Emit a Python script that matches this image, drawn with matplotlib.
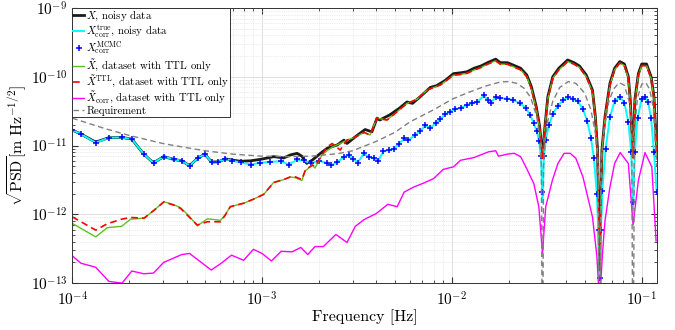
"""
Amplitude spectral density of the TDI X channel: noisy data, corrected
channels (true and MCMC estimate) and the TTL-only dataset, against the
requirement curve.
"""

import matplotlib
matplotlib.use("Agg")
import matplotlib.pyplot as plt
from matplotlib.ticker import FixedLocator, NullFormatter

# ---- X, noisy data -------------------------------------------------------
f_x_low = [
    1.0e-4, 1.11e-4, 1.33e-4, 1.56e-4, 1.83e-4, 2.06e-4, 2.38e-4, 2.68e-4, 3.03e-4, 3.42e-4,
    3.77e-4, 4.15e-4, 4.57e-4, 4.99e-4, 5.42e-4, 5.89e-4, 6.40e-4, 6.96e-4, 7.7e-4, 8.7e-4,
    9.8e-4, 1.07e-3, 1.15e-3, 1.30e-3, 1.41e-3, 1.53e-3, 1.62e-3, 1.72e-3, 1.84e-3, 2.03e-3,
    2.2e-3, 2.49e-3, 2.7e-3, 2.8e-3, 3.1e-3, 3.49e-3, 3.79e-3, 4.03e-3, 4.17e-3, 4.7e-3,
    5.3e-3, 5.8e-3, 6.2e-3, 6.8e-3, 7.7e-3, 8.3e-3, 9.2e-3,
]
psd_x_low = [
    1.68e-11, 1.47e-11, 1.12e-11, 1.30e-11, 1.31e-11, 1.24e-11, 7.5e-12, 5.6e-12, 6.9e-12, 6.3e-12,
    6.0e-12, 5.1e-12, 6.5e-12, 7.5e-12, 5.75e-12, 5.8e-12, 6.4e-12, 6.15e-12, 5.9e-12, 6.0e-12,
    6.3e-12, 6.6e-12, 6.9e-12, 6.6e-12, 7.3e-12, 7.7e-12, 7.0e-12, 5.5e-12, 6.15e-12, 7.7e-12,
    9.1e-12, 1.02e-11, 1.2e-11, 1.07e-11, 1.34e-11, 1.71e-11, 1.58e-11, 2.5e-11, 2.35e-11, 2.78e-11,
    3.5e-11, 4.3e-11, 4.1e-11, 5.1e-11, 7.0e-11, 7.4e-11, 8.8e-11,
]
# high-frequency grid shared by X and the TTL-only channels
f_high = [
    1.02e-2, 1.11e-2, 1.2e-2, 1.31e-2, 1.42e-2, 1.54e-2, 1.7e-2, 1.8e-2, 1.96e-2, 2.1e-2,
    2.3e-2, 2.48e-2, 2.62e-2, 2.78e-2, 2.9e-2, 3.0e-2, 3.09e-2, 3.2e-2, 3.4e-2, 3.66e-2,
    4.07e-2, 4.4e-2, 4.7e-2, 5.1e-2, 5.5e-2, 5.7e-2, 5.85e-2, 6.0e-2, 6.17e-2, 6.4e-2,
    6.8e-2, 7.2e-2, 7.66e-2, 8.1e-2, 8.5e-2, 8.7e-2, 9.0e-2, 9.2e-2, 9.6e-2, 1.0e-1,
    1.06e-1, 1.12e-1, 1.16e-1, 1.2e-1,
]
psd_x_high = [
    1.11e-10, 1.14e-10, 1.18e-10, 1.33e-10, 1.43e-10, 1.6e-10, 1.8e-10, 1.6e-10, 1.6e-10, 1.48e-10,
    1.33e-10, 1.06e-10, 7.2e-11, 3.7e-11, 1.88e-11, 7.0e-12, 1.88e-11, 5.1e-11, 1.0e-10, 1.33e-10,
    1.75e-10, 1.6e-10, 1.43e-10, 1.06e-10, 6.4e-11, 2.6e-11, 8.6e-12, 1.6e-13, 8.6e-12, 2.6e-11,
    8.0e-11, 1.33e-10, 1.66e-10, 1.53e-10, 1.0e-10, 4.6e-11, 7.0e-12, 4.6e-11, 1.11e-10, 1.53e-10,
    1.53e-10, 1.0e-10, 5.1e-11, 8.0e-12,
]

# ---- corrected channel: true and MCMC estimate ---------------------------
f_corr = [
    1.0e-4, 1.11e-4, 1.33e-4, 1.56e-4, 1.83e-4, 2.06e-4, 2.38e-4, 2.68e-4, 3.03e-4, 3.42e-4,
    3.77e-4, 4.15e-4, 4.57e-4, 4.99e-4, 5.42e-4, 5.89e-4, 6.40e-4, 6.96e-4, 7.7e-4, 8.7e-4,
    9.8e-4, 1.1e-3, 1.26e-3, 1.38e-3, 1.53e-3, 1.66e-3, 1.8e-3, 1.99e-3, 2.2e-3, 2.32e-3,
    2.48e-3, 2.7e-3, 2.86e-3, 3.03e-3, 3.2e-3, 3.43e-3, 3.64e-3, 3.87e-3, 4.1e-3, 4.36e-3,
    4.64e-3, 4.94e-3, 5.25e-3, 5.6e-3, 5.9e-3, 6.4e-3, 6.8e-3, 7.25e-3, 7.7e-3, 8.2e-3,
    8.7e-3, 9.2e-3, 9.8e-3, 1.04e-2, 1.11e-2, 1.2e-2, 1.27e-2, 1.36e-2, 1.47e-2, 1.55e-2,
    1.6e-2, 1.7e-2, 1.8e-2, 1.96e-2, 2.1e-2, 2.29e-2, 2.45e-2, 2.58e-2, 2.7e-2, 2.8e-2,
    2.88e-2, 2.95e-2, 3.0e-2, 3.05e-2, 3.12e-2, 3.25e-2, 3.4e-2, 3.6e-2, 3.85e-2, 4.1e-2,
    4.35e-2, 4.6e-2, 4.9e-2, 5.15e-2, 5.4e-2, 5.6e-2, 5.8e-2, 5.92e-2, 6.0e-2, 6.08e-2,
    6.2e-2, 6.45e-2, 6.8e-2, 7.2e-2, 7.66e-2, 8.1e-2, 8.5e-2, 8.8e-2, 9.0e-2, 9.2e-2,
    9.5e-2, 1.0e-1, 1.04e-1, 1.08e-1, 1.12e-1, 1.16e-1, 1.2e-1,
]
psd_corr_true = [
    1.68e-11, 1.47e-11, 1.1e-11, 1.3e-11, 1.31e-11, 1.24e-11, 7.5e-12, 5.6e-12, 6.9e-12, 6.3e-12,
    6.0e-12, 5.1e-12, 6.5e-12, 7.5e-12, 5.75e-12, 5.8e-12, 6.4e-12, 6.0e-12, 5.7e-12, 5.3e-12,
    5.6e-12, 5.8e-12, 5.9e-12, 5.3e-12, 6.2e-12, 6.1e-12, 5.5e-12, 6.0e-12, 5.6e-12, 5.2e-12,
    5.7e-12, 6.8e-12, 7.2e-12, 6.3e-12, 5.7e-12, 7.6e-12, 6.9e-12, 6.5e-12, 6.1e-12, 8.2e-12,
    8.6e-12, 8.9e-12, 1.06e-11, 1.25e-11, 1.21e-11, 1.41e-11, 1.63e-11, 1.95e-11, 1.8e-11, 2.1e-11,
    2.4e-11, 2.85e-11, 3.1e-11, 3.4e-11, 3.5e-11, 3.9e-11, 4.1e-11, 4.3e-11, 5.3e-11, 4.6e-11,
    4.2e-11, 5.0e-11, 4.9e-11, 4.8e-11, 4.6e-11, 4.1e-11, 3.5e-11, 2.8e-11, 2.1e-11, 1.6e-11,
    1.15e-11, 6.5e-12, 1.5e-12, 6.5e-12, 1.2e-11, 2.0e-11, 2.9e-11, 3.7e-11, 4.6e-11, 5.0e-11,
    4.8e-11, 4.4e-11, 3.4e-11, 2.3e-11, 1.3e-11, 6.5e-12, 2.0e-12, 5e-13, 6e-14, 5e-13,
    2.2e-12, 9e-12, 2.6e-11, 4.4e-11, 5.1e-11, 4.2e-11, 2.2e-11, 8e-12, 1.2e-12, 8e-12,
    2.5e-11, 4.8e-11, 5.1e-11, 4.3e-11, 2.5e-11, 8e-12, 2.0e-12,
]
psd_corr_mcmc = [
    1.68e-11, 1.47e-11, 1.1e-11, 1.3e-11, 1.31e-11, 1.24e-11, 7.5e-12, 5.6e-12, 6.9e-12, 6.3e-12,
    6.0e-12, 5.1e-12, 6.5e-12, 7.5e-12, 5.75e-12, 5.8e-12, 6.4e-12, 6.0e-12, 5.8e-12, 5.2e-12,
    5.6e-12, 5.8e-12, 6.0e-12, 5.2e-12, 6.3e-12, 6.15e-12, 5.5e-12, 6.0e-12, 5.55e-12, 5.2e-12,
    5.8e-12, 6.9e-12, 7.3e-12, 6.3e-12, 5.6e-12, 7.7e-12, 6.9e-12, 6.6e-12, 6.0e-12, 8.3e-12,
    8.6e-12, 8.8e-12, 1.07e-11, 1.27e-11, 1.2e-11, 1.42e-11, 1.64e-11, 1.99e-11, 1.77e-11, 2.1e-11,
    2.4e-11, 2.9e-11, 3.1e-11, 3.4e-11, 3.5e-11, 3.9e-11, 4.1e-11, 4.3e-11, 5.4e-11, 4.6e-11,
    4.1e-11, 5.1e-11, 4.9e-11, 4.8e-11, 4.6e-11, 4.1e-11, 3.5e-11, 2.8e-11, 2.1e-11, 1.6e-11,
    1.15e-11, 7e-12, 2.1e-12, 7e-12, 1.2e-11, 2.0e-11, 2.9e-11, 3.7e-11, 4.6e-11, 5.0e-11,
    4.8e-11, 4.4e-11, 3.4e-11, 2.3e-11, 1.3e-11, 6.5e-12, 2.0e-12, 6e-13, 1.2e-13, 6e-13,
    2.2e-12, 9e-12, 2.6e-11, 4.4e-11, 5.1e-11, 4.2e-11, 2.2e-11, 8e-12, 1.5e-12, 8e-12,
    2.5e-11, 4.8e-11, 5.1e-11, 4.3e-11, 2.5e-11, 8e-12, 2.1e-12,
]

# ---- dataset with TTL only ----------------------------------------------
f_ttl_low = [
    1.0e-4, 1.33e-4, 1.53e-4, 1.82e-4, 2.03e-4, 2.39e-4, 2.7e-4, 3.04e-4, 3.43e-4, 3.72e-4,
    4.12e-4, 4.56e-4, 5.15e-4, 6.05e-4, 6.4e-4, 6.8e-4, 8.0e-4, 9.0e-4, 1.02e-3, 1.15e-3,
    1.3e-3, 1.41e-3, 1.5e-3, 1.62e-3, 1.69e-3, 1.84e-3, 1.9e-3, 2.07e-3, 2.2e-3, 2.34e-3,
    2.58e-3, 2.8e-3, 3.05e-3, 3.45e-3, 3.7e-3, 4.03e-3, 4.55e-3, 5.15e-3, 5.8e-3, 6.55e-3,
    7.4e-3, 8.7e-3,
]
psd_xttl_low = [
    9.2e-13, 5.9e-13, 7.3e-13, 8.5e-13, 9.0e-13, 8.8e-13, 1.15e-12, 1.52e-12, 1.36e-12, 1.22e-12,
    9.2e-13, 7.0e-13, 7.8e-13, 7.8e-13, 9.75e-13, 1.29e-12, 1.45e-12, 1.66e-12, 1.95e-12, 2.9e-12,
    3.2e-12, 3.5e-12, 3.5e-12, 3.2e-12, 4.4e-12, 5.2e-12, 5.0e-12, 7.3e-12, 9.5e-12, 1.07e-11,
    8.6e-12, 1.2e-11, 1.3e-11, 1.55e-11, 1.42e-11, 2.5e-11, 2.35e-11, 3.1e-11, 4.1e-11, 4.7e-11,
    6.4e-11, 7.6e-11,
]
psd_xtilde_low = [
    7.4e-13, 4.7e-13, 6.4e-13, 6.7e-13, 8.5e-13, 8.8e-13, 1.15e-12, 1.52e-12, 1.38e-12, 1.25e-12,
    9.5e-13, 6.8e-13, 8.6e-13, 8.2e-13, 9.9e-13, 1.29e-12, 1.45e-12, 1.66e-12, 1.95e-12, 2.9e-12,
    3.2e-12, 3.5e-12, 3.4e-12, 3.1e-12, 4.3e-12, 5.2e-12, 4.7e-12, 7.3e-12, 8.4e-12, 9.5e-12,
    1.07e-11, 1.2e-11, 1.3e-11, 1.55e-11, 1.42e-11, 2.5e-11, 2.35e-11, 3.1e-11, 4.1e-11, 4.7e-11,
    6.4e-11, 7.6e-11,
]
psd_ttl_high = [
    1.05e-10, 1.08e-10, 1.12e-10, 1.25e-10, 1.36e-10, 1.52e-10, 1.7e-10, 1.52e-10, 1.52e-10, 1.4e-10,
    1.26e-10, 1.0e-10, 6.8e-11, 3.5e-11, 1.78e-11, 6.5e-12, 1.78e-11, 4.8e-11, 9.5e-11, 1.26e-10,
    1.66e-10, 1.52e-10, 1.36e-10, 1.0e-10, 6.1e-11, 2.5e-11, 8.2e-12, 1.5e-13, 8.2e-12, 2.5e-11,
    7.6e-11, 1.26e-10, 1.58e-10, 1.45e-10, 9.5e-11, 4.4e-11, 6.6e-12, 4.4e-11, 1.05e-10, 1.45e-10,
    1.45e-10, 9.5e-11, 4.8e-11, 7.6e-12,
]

f_xcorr_ttl = [
    1.0e-4, 1.11e-4, 1.33e-4, 1.56e-4, 1.83e-4, 2.06e-4, 2.38e-4, 2.68e-4, 3.03e-4, 3.77e-4,
    4.15e-4, 5.4e-4, 6.1e-4, 6.9e-4, 8.0e-4, 9.0e-4, 1.0e-3, 1.12e-3, 1.26e-3, 1.44e-3,
    1.6e-3, 1.74e-3, 1.9e-3, 2.1e-3, 2.45e-3, 2.8e-3, 3.1e-3, 3.45e-3, 4.0e-3, 4.6e-3,
    5.15e-3, 5.6e-3, 6.3e-3, 7.0e-3, 8.0e-3, 9.0e-3, 1.02e-2, 1.11e-2, 1.31e-2, 1.56e-2,
    1.7e-2, 1.76e-2, 1.96e-2, 2.13e-2, 2.3e-2, 2.48e-2, 2.7e-2, 2.87e-2, 3.0e-2, 3.12e-2,
    3.38e-2, 3.62e-2, 3.9e-2, 4.2e-2, 4.5e-2, 4.9e-2, 5.5e-2, 5.8e-2, 6.0e-2, 6.2e-2,
    6.4e-2, 6.8e-2, 7.2e-2, 7.7e-2, 8.5e-2, 9.0e-2, 9.6e-2, 1.04e-1, 1.13e-1, 1.19e-1,
]
psd_xcorr_ttl = [
    2.5e-13, 1.95e-13, 1.7e-13, 1.06e-13, 1.0e-13, 1.5e-13, 1.37e-13, 1.4e-13, 2.0e-13, 2.6e-13,
    2.7e-13, 1.55e-13, 1.95e-13, 2.55e-13, 2.15e-13, 3.1e-13, 2.7e-13, 2.1e-13, 2.9e-13, 2.85e-13,
    3.3e-13, 2.6e-13, 3.4e-13, 3.4e-13, 5.1e-13, 3.9e-13, 6.7e-13, 8.4e-13, 1.03e-12, 1.4e-12,
    1.29e-12, 2.1e-12, 2.5e-12, 2.8e-12, 3.3e-12, 4.5e-12, 4.9e-12, 6.1e-12, 6.7e-12, 8.1e-12,
    8.4e-12, 7.0e-12, 7.5e-12, 7.7e-12, 6.9e-12, 4.6e-12, 2.8e-12, 1.29e-12, 2.7e-13, 1.29e-12,
    3.1e-12, 5.5e-12, 7.7e-12, 7.7e-12, 6.5e-12, 3.5e-12, 9.2e-13, 2.5e-13, 5e-14, 2.5e-13,
    8e-13, 2.5e-12, 5.5e-12, 7.9e-12, 5.5e-12, 7e-13, 3.1e-12, 7.9e-12, 4.9e-12, 4.1e-13,
]

# ---- requirement ---------------------------------------------------------
f_req = [
    1.0e-4, 1.5e-4, 2.0e-4, 3.0e-4, 4.0e-4, 5.0e-4, 7.0e-4, 1.0e-3, 1.4e-3, 1.8e-3,
    2.5e-3, 3.0e-3, 4.0e-3, 5.0e-3, 6.0e-3, 8.0e-3, 1.0e-2, 1.2e-2, 1.5e-2, 1.8e-2,
    2.0e-2, 2.2e-2, 2.4e-2, 2.6e-2, 2.8e-2, 2.9e-2, 2.96e-2, 3.0e-2, 3.04e-2, 3.1e-2,
    3.2e-2, 3.4e-2, 3.7e-2, 4.1e-2, 4.5e-2, 5.0e-2, 5.4e-2, 5.7e-2, 5.9e-2, 6.0e-2,
    6.1e-2, 6.3e-2, 6.7e-2, 7.1e-2, 7.6e-2, 8.1e-2, 8.6e-2, 8.85e-2, 9.0e-2, 9.15e-2,
    9.5e-2, 1.0e-1, 1.05e-1, 1.1e-1, 1.15e-1, 1.2e-1,
]
psd_req = [
    2.5e-11, 1.75e-11, 1.4e-11, 1.07e-11, 9.3e-12, 8.4e-12, 7.5e-12, 7.0e-12, 6.9e-12, 7.0e-12,
    7.6e-12, 8.4e-12, 1.15e-11, 1.55e-11, 2.2e-11, 3.3e-11, 4.7e-11, 5.8e-11, 7.3e-11, 8.4e-11,
    8.5e-11, 8.0e-11, 6.8e-11, 5.0e-11, 2.6e-11, 1.3e-11, 5e-12, 1e-15, 5e-12, 1.2e-11,
    2.3e-11, 4.4e-11, 7.0e-11, 8.5e-11, 8.0e-11, 5.8e-11, 3.3e-11, 1.5e-11, 5e-12, 1e-15,
    5e-12, 1.5e-11, 4.3e-11, 6.6e-11, 8.2e-11, 7.5e-11, 4.3e-11, 2.0e-11, 1e-15, 1.6e-11,
    5.0e-11, 7.8e-11, 8.2e-11, 6.6e-11, 3.6e-11, 5e-12,
]

plt.rcParams.update({
    "font.family": "serif",
    "font.serif": ["cmr10", "DejaVu Serif"],
    "mathtext.fontset": "cm",
    "axes.formatter.use_mathtext": True,
    "font.size": 11,
})

fig = plt.figure(figsize=(6.75, 3.3), dpi=100)
ax = fig.add_axes([0.107, 0.142, 0.866, 0.834])

ax.loglog(f_x_low + f_high, psd_x_low + psd_x_high, color="#1a1a1a", lw=2.0,
          label=r"$X$, noisy data")
ax.loglog(f_corr, psd_corr_true, color="#00ffff", lw=1.4,
          label=r"$X_{\mathrm{corr}}^{\mathrm{true}}$, noisy data")
ax.loglog(f_corr, psd_corr_mcmc, ls="none", marker="+", ms=4.5, mew=1.1, color="#0000ff",
          label=r"$X_{\mathrm{corr}}^{\mathrm{MCMC}}$")
ax.loglog(f_ttl_low + f_high, psd_xtilde_low + psd_ttl_high, color="#5fc21e", lw=1.0,
          label=r"$\tilde{X}$, dataset with TTL only")
ax.loglog(f_ttl_low + f_high, psd_xttl_low + psd_ttl_high, color="#ff0000", lw=1.2,
          ls=(0, (4, 2.5)), label=r"$\tilde{X}^{\mathrm{TTL}}$, dataset with TTL only")
ax.loglog(f_xcorr_ttl, psd_xcorr_ttl, color="#ff00ff", lw=1.0,
          label=r"$\tilde{X}_{\mathrm{corr}}$, dataset with TTL only")
ax.loglog(f_req, psd_req, color="#808080", lw=1.0, ls=(0, (4, 2.5)),
          label="Requirement")

ax.set_xlim(1e-4, 0.12)
ax.set_ylim(1e-13, 1e-9)
ax.set_xlabel("Frequency [Hz]", fontsize=11.5, labelpad=1)
ax.set_ylabel(r"$\sqrt{\mathrm{PSD}}[\mathrm{m\ Hz}^{-1/2}]$", fontsize=11.5, labelpad=1)

# decade ticks and minor ticks only inside the plotted range
ax.xaxis.set_major_locator(FixedLocator([1e-4, 1e-3, 1e-2, 1e-1]))
ax.yaxis.set_major_locator(FixedLocator([1e-13, 1e-12, 1e-11, 1e-10, 1e-9]))
x_minor = [k * 10.0 ** e for e in (-4, -3, -2) for k in range(2, 10)]
y_minor = [k * 10.0 ** e for e in (-13, -12, -11, -10) for k in range(2, 10)]
ax.xaxis.set_minor_locator(FixedLocator(x_minor))
ax.yaxis.set_minor_locator(FixedLocator(y_minor))
ax.xaxis.set_minor_formatter(NullFormatter())
ax.yaxis.set_minor_formatter(NullFormatter())

ax.grid(True, which="major", color="#d9d9d9", lw=0.6)
ax.grid(True, which="minor", color="#d9d9d9", lw=0.5, ls=":")
ax.set_axisbelow(True)
ax.tick_params(which="both", direction="in", top=True, right=True, color="#333333",
               labelsize=11)
ax.tick_params(axis="x", pad=5)
ax.tick_params(which="major", length=4)
ax.tick_params(which="minor", length=2)
for sp in ax.spines.values():
    sp.set_color("#333333")
    sp.set_linewidth(0.7)

leg = ax.legend(loc="upper left", borderaxespad=0, fontsize=7.8, fancybox=False,
                framealpha=1, edgecolor="#333333", handlelength=1.0,
                handletextpad=0.2, labelspacing=0.0, borderpad=0.1)
leg.get_frame().set_linewidth(0.7)

fig.savefig("out.png", dpi=100)
plt.close(fig)
